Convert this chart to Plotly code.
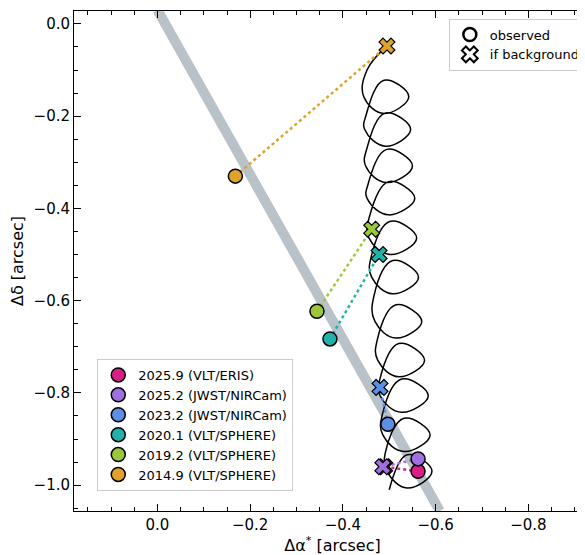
import plotly.graph_objects as go

# epochs and measured / predicted-background positions [arcsec]
epochs = ["2025.9 (VLT/ERIS)", "2025.2 (JWST/NIRCam)", "2023.2 (JWST/NIRCam)",
          "2020.1 (VLT/SPHERE)", "2019.2 (VLT/SPHERE)", "2014.9 (VLT/SPHERE)"]
colors = ["#d81f86", "#a070e0", "#5b8fe6", "#22b2aa", "#9bc83a", "#e0a22a"]
obs_ra = [-0.562, -0.562, -0.497, -0.372, -0.344, -0.168]
obs_dec = [-0.970, -0.943, -0.868, -0.683, -0.623, -0.330]
bg_ra = [-0.490, -0.486, -0.480, -0.478, -0.462, -0.495]
bg_dec = [-0.960, -0.960, -0.788, -0.500, -0.445, -0.048]

# background track: loops (centre dec, left / right RA extent)
track_start_ra = [-0.495, -0.452]
track_start_dec = [-0.048, -0.100]
loop_dec = [-0.158, -0.229, -0.308, -0.378, -0.464, -0.549, -0.645, -0.729, -0.806, -0.891, -0.970]
loop_left = [-0.445, -0.447, -0.449, -0.452, -0.456, -0.462, -0.469, -0.475, -0.480, -0.486, -0.495]
loop_right = [-0.542, -0.546, -0.550, -0.555, -0.559, -0.563, -0.570, -0.576, -0.584, -0.588, -0.592]
loop_half_height = 0.036

track_ra = list(track_start_ra)
track_dec = list(track_start_dec)
for yc, xl, xr in zip(loop_dec, loop_left, loop_right):
    w = xr - xl
    track_ra += [xl, xl + 0.45 * w, xr, xl + 0.45 * w, xl + 0.05 * w]
    track_dec += [yc, yc - loop_half_height, yc, yc + loop_half_height, yc - 0.04]

# common motion band
band_ra = [0.0, -0.609]
band_dec = [0.03, -1.056]

fig = go.Figure()
fig.add_trace(go.Scatter(x=band_ra, y=band_dec, mode="lines",
                         line=dict(color="#b9c1c9", width=10), showlegend=False))
fig.add_trace(go.Scatter(x=track_ra, y=track_dec, mode="lines",
                         line=dict(color="black", width=1.5, shape="spline", smoothing=1.2),
                         showlegend=False))
for i in range(len(epochs)):
    fig.add_trace(go.Scatter(x=[obs_ra[i], bg_ra[i]], y=[obs_dec[i], bg_dec[i]], mode="lines",
                             line=dict(color=colors[i], width=2.5, dash="dot"), showlegend=False))
for i in range(len(epochs)):
    fig.add_trace(go.Scatter(x=[bg_ra[i]], y=[bg_dec[i]], mode="markers",
                             marker=dict(symbol="x", size=14, color=colors[i],
                                         line=dict(color="black", width=1.2)),
                             showlegend=False))
for i in range(len(epochs)):
    fig.add_trace(go.Scatter(x=[obs_ra[i]], y=[obs_dec[i]], mode="markers", name=epochs[i],
                             marker=dict(symbol="circle", size=14, color=colors[i],
                                         line=dict(color="black", width=1.5))))
# symbol legend
fig.add_trace(go.Scatter(x=[None], y=[None], mode="markers", name="observed", legend="legend2",
                         marker=dict(symbol="circle", size=13, color="white",
                                     line=dict(color="black", width=2.5))))
fig.add_trace(go.Scatter(x=[None], y=[None], mode="markers", name="if background", legend="legend2",
                         marker=dict(symbol="x", size=14, color="white",
                                     line=dict(color="black", width=2))))

axis_style = dict(showgrid=False, zeroline=False, showline=True, linecolor="black", linewidth=1,
                  mirror="ticks", ticks="inside", ticklen=7, tickcolor="black",
                  minor=dict(ticks="inside", ticklen=4, tickcolor="black"),
                  tickfont=dict(size=15, color="black"))
fig.update_xaxes(range=[0.18, -0.935], dtick=0.2, tickformat=".1f", minor_dtick=0.05,
                 title=dict(text="Δα<sup>*</sup> [arcsec]", font=dict(size=16, color="black"), standoff=2),
                 **axis_style)
fig.update_yaxes(range=[-1.056, 0.028], dtick=0.2, tickformat=".1f", minor_dtick=0.05,
                 title=dict(text="Δδ [arcsec]", font=dict(size=16, color="black"), standoff=6),
                 **axis_style)
fig.update_layout(
    width=585, height=555, margin=dict(l=66, r=2, t=3, b=52),
    plot_bgcolor="white", paper_bgcolor="white",
    font=dict(family="DejaVu Sans", color="black"),
    legend=dict(x=0.045, y=0.04, xanchor="left", yanchor="bottom", bgcolor="white",
                bordercolor="#cccccc", borderwidth=1, font=dict(size=13), traceorder="normal",
                tracegroupgap=0),
    legend2=dict(x=0.99, y=0.985, xanchor="right", yanchor="top", bgcolor="white",
                 bordercolor="#cccccc", borderwidth=1, font=dict(size=13)),
)
fig.write_html("out.html")
